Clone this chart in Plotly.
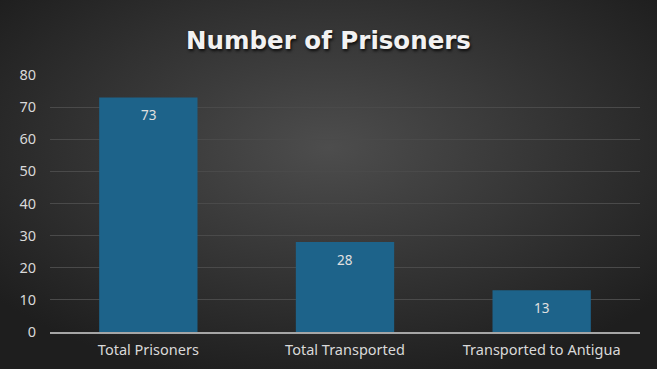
import plotly.graph_objects as go
import base64

categories = ["Total Prisoners", "Total Transported", "Transported to Antigua"]
values = [73, 28, 13]
y_ticks = [0, 10, 20, 30, 40, 50, 60, 70, 80]

svg = ('<svg xmlns="http://www.w3.org/2000/svg" width="657" height="369">'
       '<defs><radialGradient id="g" cx="50%" cy="40%" r="65%">'
       '<stop offset="0%" stop-color="#4d4d4d"/><stop offset="100%" stop-color="#1e1e1e"/>'
       '</radialGradient></defs><rect width="657" height="369" fill="url(#g)"/></svg>')
bg_uri = "data:image/svg+xml;base64," + base64.b64encode(svg.encode()).decode()

fig = go.Figure(go.Bar(
    x=categories, y=values, width=0.5,
    marker=dict(color="#1d638a", line=dict(width=0)),
    hoverinfo="x+y",
))

for c, v in zip(categories, values):
    fig.add_annotation(x=c, y=v, text=str(v), showarrow=False, yanchor="top", yshift=-7,
                       font=dict(color="#e0e0e0", size=13.5, family="Noto Sans"))

fig.update_layout(
    width=657, height=369,
    margin=dict(l=50, r=17, t=75, b=37),
    paper_bgcolor="#2b2b2b", plot_bgcolor="rgba(0,0,0,0)",
    images=[dict(source=bg_uri, xref="paper", yref="paper", x=-50/590, y=1+75/257,
                 sizex=657/590, sizey=369/257, sizing="stretch", layer="below",
                 xanchor="left", yanchor="top")],
    title=dict(text="<b>Number of Prisoners</b>", x=0.5, xanchor="center", y=0.89, yanchor="middle",
               font=dict(family="DejaVu Sans", size=24.5, color="#f2f2f2",
                         shadow="1px 2px 3px rgba(0,0,0,0.8)")),
    showlegend=False,
    bargap=0.5,
    font=dict(family="Noto Sans", color="#d9d9d9", size=13),
)
fig.update_yaxes(range=[0, 80], tickvals=y_ticks, showgrid=True, gridcolor="#4a4a4a", gridwidth=1,
                 zeroline=False, showline=False, ticks="", ticklabelstandoff=13, automargin=False,
                 tickfont=dict(size=14.5, color="#d9d9d9"))
fig.update_xaxes(showline=True, linecolor="#a6a6a6", linewidth=1.5, ticks="", ticklabelstandoff=4,
                 automargin=False, tickfont=dict(size=14.5, color="#d9d9d9"))

fig.write_html("out.html")
